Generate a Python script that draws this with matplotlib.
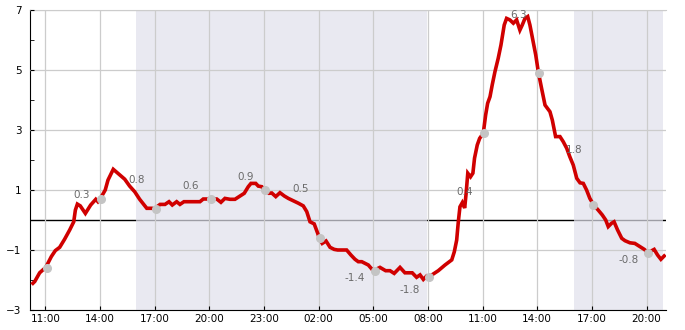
import matplotlib
matplotlib.use('Agg')
import matplotlib.pyplot as plt
import matplotlib.dates as mdates
import pandas as pd

START = pd.Timestamp('2024-01-01 11:00')

# hours after 11:00 on day one, and temperature
HOURS = [
    -0.68, -0.58, -0.31, -0.09, 0.0, 0.33, 0.55, 0.79, 1.06, 1.34, 1.56, 1.65,
    1.76, 1.92, 2.20, 2.49, 2.77, 2.89, 3.0, 3.29, 3.44, 3.73, 4.36, 4.63,
    4.91, 5.18, 5.57, 5.84, 6.0, 6.30, 6.57, 6.79, 6.97, 7.21, 7.39, 7.61,
    7.85, 8.49, 8.67, 9.0, 9.41, 9.64, 9.86, 10.14, 10.41, 10.69, 10.92, 11.14,
    11.29, 11.55, 11.69, 11.88, 12.0, 12.28, 12.43, 12.65, 12.88, 13.12, 13.34,
    13.61, 13.89, 14.16, 14.35, 14.53, 14.76, 14.95, 15.04, 15.20, 15.41,
    15.63, 15.86, 16.05, 16.54, 16.78, 17.00, 17.18, 17.37, 17.73, 18.0, 18.37,
    18.68, 18.92, 19.15, 19.47, 19.74, 20.14, 20.38, 20.57, 20.75, 20.93,
    21.02, 21.57, 21.94, 22.31, 22.45, 22.58, 22.67, 22.76, 22.89, 23.02,
    23.10, 23.19, 23.34, 23.47, 23.56, 23.71, 23.84, 24.04, 24.17, 24.28,
    24.41, 24.53, 24.68, 24.86, 25.01, 25.19, 25.32, 25.50, 25.69, 25.87,
    26.05, 26.18, 26.33, 26.48, 26.60, 26.78, 26.92, 27.06, 27.24, 27.43,
    27.70, 27.83, 28.01, 28.25, 28.43, 28.62, 28.79, 28.98, 29.17, 29.35,
    29.53, 29.71, 29.89, 30.10, 30.35, 30.57, 30.76, 30.90, 31.08, 31.22,
    31.41, 31.64, 31.82, 32.09, 32.36, 32.64, 32.88, 33.08, 33.42, 33.61,
    33.79, 33.97,
]
TEMPS = [
    -2.11, -2.05, -1.76, -1.64, -1.61, -1.22, -1.02, -0.91, -0.64, -0.33, -0.06,
    0.33, 0.53, 0.47, 0.22, 0.50, 0.69, 0.61, 0.69, 1.0, 1.33, 1.69, 1.36,
    1.13, 0.94, 0.69, 0.39, 0.39, 0.38, 0.52, 0.52, 0.61, 0.50, 0.61, 0.52,
    0.61, 0.61, 0.61, 0.70, 0.70, 0.70, 0.59, 0.72, 0.69, 0.69, 0.80, 0.89,
    1.11, 1.22, 1.22, 1.13, 1.11, 1.0, 0.89, 0.90, 0.78, 0.91, 0.80, 0.72,
    0.64, 0.56, 0.47, 0.28, -0.06, -0.13, -0.44, -0.61, -0.78, -0.70, -0.91,
    -0.98, -1.0, -1.0, -1.17, -1.31, -1.39, -1.39, -1.50, -1.69, -1.58, -1.69,
    -1.69, -1.78, -1.58, -1.76, -1.76, -1.91, -1.83, -1.98, -1.87, -1.91,
    -1.69, -1.50, -1.33, -1.06, -0.67, -0.06, 0.44, 0.58, 0.40, 0.90, 1.56,
    1.44, 1.56, 2.06, 2.50, 2.72, 2.89, 3.50, 3.89, 4.11, 4.50, 4.94, 5.39,
    5.83, 6.50, 6.72, 6.67, 6.56, 6.67, 6.33, 6.50, 6.72, 6.78, 6.50, 5.94,
    5.50, 4.94, 4.39, 3.83, 3.61, 3.33, 2.78, 2.78, 2.61, 2.39, 2.11, 1.83,
    1.39, 1.24, 1.22, 1.0, 0.72, 0.50, 0.33, 0.17, 0.0, -0.22, -0.11, -0.06,
    -0.33, -0.61, -0.69, -0.76, -0.78, -0.89, -0.98, -1.09, -0.98, -1.17,
    -1.31, -1.20,
]

# grey dots every three hours
DOT_HOURS = [0, 3, 6, 9, 12, 15, 18, 21, 24, 27, 30, 33]
DOT_TEMPS = [-1.61, 0.69, 0.38, 0.69, 1.0, -0.61, -1.70, -1.90, 2.89, 4.89,
             0.50, -1.10]

# value labels
LABEL_HOURS = [2, 5, 8, 11, 14, 17, 20, 23, 26, 29, 32]
LABEL_VALUES = [0.3, 0.8, 0.6, 0.9, 0.5, -1.4, -1.8, 0.4, 6.3, 1.8, -0.8]

# night shading (hours after start)
NIGHTS = [(5.0, 20.95), (29.0, 33.9)]


def to_time(hours):
    return [START + pd.Timedelta(hours=h) for h in hours]


fig = plt.figure(figsize=(6.85, 3.3), dpi=100)
ax = fig.add_axes([30 / 685, 20 / 330, 636 / 685, 300 / 330])

ax.axhline(0, color='black', lw=1, zorder=0.5)
for a, b in NIGHTS:
    t0, t1 = to_time([a, b])
    ax.axvspan(t0, t1, color='#e1e1ec', alpha=0.7, lw=0, zorder=1)

ax.plot(to_time(HOURS), TEMPS, color='#d00000', lw=2.6, zorder=3,
        solid_joinstyle='miter')
ax.plot(to_time([h + 0.08 for h in DOT_HOURS]), DOT_TEMPS, 'o',
        color='#c4c4c4', ms=5.5, zorder=4)

for h, v in zip(LABEL_HOURS, LABEL_VALUES):
    off = 16 if v > 0 else -16
    ax.annotate(f'{v}', (to_time([h])[0], v), xytext=(0, off),
                textcoords='offset pixels', ha='center', va='center',
                color='#6a6a6a', fontsize=7.5, zorder=5)

ax.set_ylim(-3, 7)
ax.set_xlim(to_time([-0.84, 34.07]))
ax.set_yticks([-3, -1, 1, 3, 5, 7])
ax.set_yticks([-2, 0, 2, 4, 6], minor=True)
ax.xaxis.set_major_locator(mdates.HourLocator(byhour=[2, 5, 8, 11, 14, 17, 20, 23]))
ax.xaxis.set_major_formatter(mdates.DateFormatter('%H:%M'))

ax.grid(True, color='#cccccc', lw=0.9, zorder=2)
ax.set_axisbelow(False)
for ln in ax.get_xgridlines() + ax.get_ygridlines():
    ln.set_zorder(2)

ax.tick_params(axis='both', which='both', direction='in', length=3,
               labelsize=7.5, color='black')
ax.tick_params(axis='y', pad=6)
ax.tick_params(axis='x', pad=3)

ax.spines['right'].set_visible(False)
ax.spines['top'].set_color('#cccccc')
ax.spines['left'].set_color('black')
ax.spines['bottom'].set_color('black')

fig.savefig('out.png', dpi=100)
